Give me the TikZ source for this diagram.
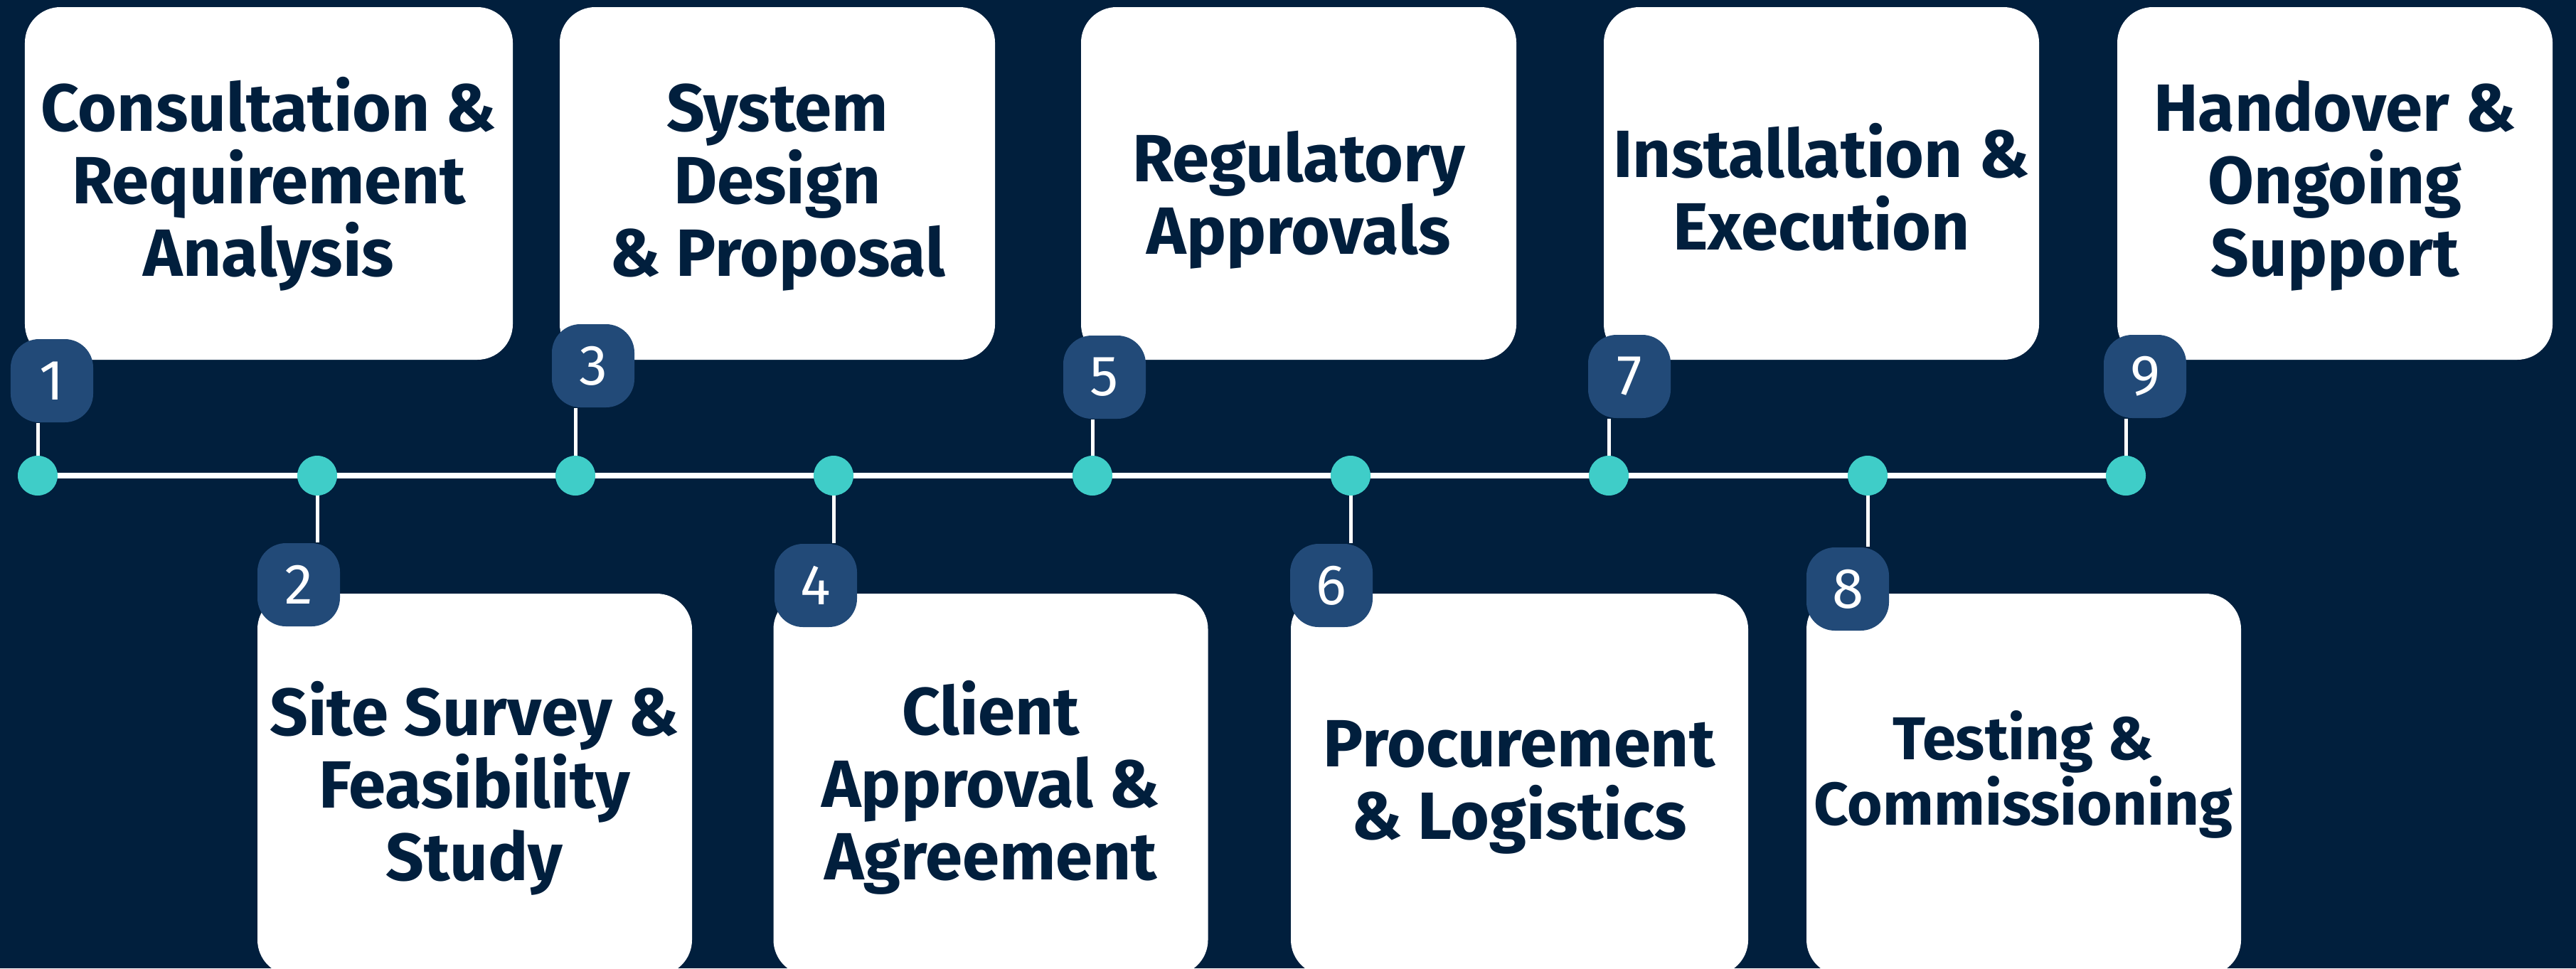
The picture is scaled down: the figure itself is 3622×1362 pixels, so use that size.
\documentclass[tikz,border=0pt]{standalone}
\usepackage{fontspec}
\setmainfont{Fira Sans}
\definecolor{bgnavy}{HTML}{011F3D}
\definecolor{inknavy}{HTML}{011F3D}
\definecolor{badgeblue}{HTML}{224A78}
\definecolor{dotteal}{HTML}{3FCDC8}
\begin{document}
\begin{tikzpicture}[x=0.2pt,y=-0.2pt,
  card/.style={fill=white, rounded corners=10pt, inner sep=0pt, draw=none},
  topcard/.style={card, minimum width=122.4pt, minimum height=99.2pt},
  botcard/.style={card, minimum width=122.2pt, minimum height=107.4pt},
  badge/.style={fill=badgeblue, rounded corners=8pt, minimum width=23.2pt, minimum height=23.4pt, inner sep=0pt, text=white, font=\fontsize{16}{16}\selectfont},
  tdot/.style={circle, fill=dotteal, minimum size=11.2pt, inner sep=0pt},
  label/.style={text=inknavy, align=center, font=\bfseries\fontsize{18.8}{20.4}\selectfont, inner sep=0pt, anchor=base},
  smalllabel/.style={label, font=\bfseries\fontsize{17}{18.4}\selectfont},
  rail/.style={draw=white, line width=1.6pt},
  stem/.style={draw=white, line width=1pt},
]
\fill[bgnavy] (0,0) rectangle (3622,1362);
\useasboundingbox (0,0) rectangle (3622,1362);

% timeline points
\coordinate (p1) at (53,669);
\coordinate (p2) at (446,669);
\coordinate (p3) at (809,669);
\coordinate (p4) at (1172,669);
\coordinate (p5) at (1536,669);
\coordinate (p6) at (1899,669);
\coordinate (p7) at (2262,669);
\coordinate (p8) at (2626,669);
\coordinate (p9) at (2989,669);

% cards
\node[topcard, minimum width=137.2pt] (b1) at (378,258) {};
\node[topcard] (b3) at (1093,258) {};
\node[topcard] (b5) at (1826,258) {};
\node[topcard] (b7) at (2561,258) {};
\node[topcard] (b9) at (3283,258) {};
\node[botcard] (b2) at (667.5,1103.5) {};
\node[botcard] (b4) at (1393,1103.5) {};
\node[botcard, minimum width=128.6pt] (b6) at (2136.5,1103.5) {};
\node[botcard] (b8) at (2845.5,1103.5) {};

% badges
\node[badge] (n1) at (73,535.5) {1};
\node[badge] (n3) at (834,514.5) {3};
\node[badge] (n5) at (1553,530.5) {5};
\node[badge] (n7) at (2291,529.5) {7};
\node[badge] (n9) at (3016,529.5) {9};
\node[badge] (n2) at (420,822.5) {2};
\node[badge] (n4) at (1147,823.5) {4};
\node[badge] (n6) at (1872,823.5) {6};
\node[badge] (n8) at (2598,828.5) {8};

% rail and stems
\path[rail] (p1) -- (p9);
\foreach \i in {1,3,5,7,9} {
  \path[stem] (p\i) -- (p\i |- n\i.south);
}
\foreach \i in {2,4,6,8} {
  \path[stem] (p\i) -- (p\i |- n\i.north);
}
% dots on top of the rail
\foreach \i in {1,...,9} {
  \node[tdot] (d\i) at (p\i) {};
}

% labels (anchored at the baseline of their last line)
\node[label] (t1) at (378,388) {Consultation \&\\Requirement\\Analysis};
\node[label] (t3) at (1093,388) {System\\Design\\\& Proposal};
\node[label] (t5) at (1826,357) {Regulatory\\Approvals};
\node[label] (t7) at (2561,351) {Installation \&\\Execution};
\node[label] (t9) at (3283,388) {Handover \&\\Ongoing\\Support};
\node[label] (t2) at (667,1238) {Site Survey \&\\Feasibility\\Study};
\node[label] (t4) at (1393,1237) {Client\\Approval \&\\Agreement};
\node[label] (t6) at (2136,1180) {Procurement\\\& Logistics};
\node[smalllabel] (t8) at (2845,1160) {Testing \&\\Commissioning};
\end{tikzpicture}
\end{document}
